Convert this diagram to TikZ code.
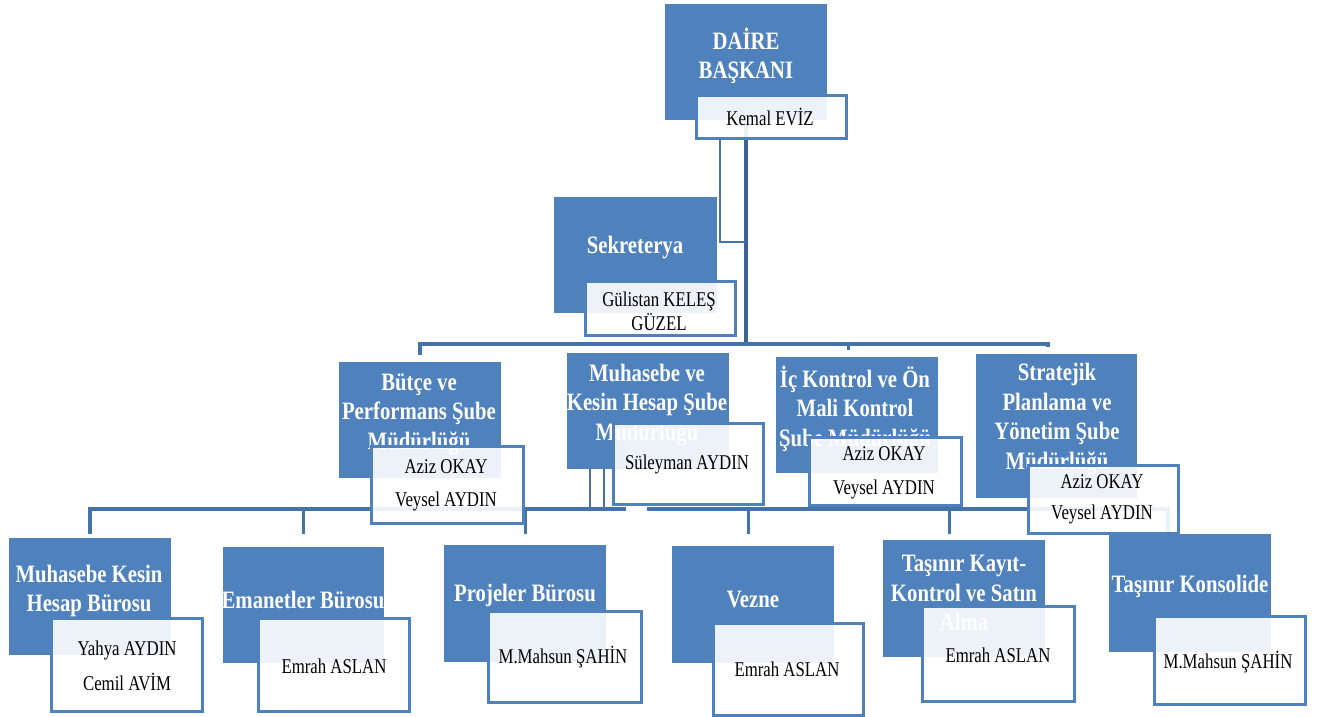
\documentclass[tikz,border=0pt]{standalone}
\usepackage{fontspec}
\setmainfont{Liberation Serif}
\newfontfamily\tfont[FakeStretch=0.83]{Liberation Serif}
\newfontfamily\nfont[FakeStretch=0.80]{Liberation Serif}
\definecolor{bxblue}{HTML}{4F81BD}
\definecolor{lnblue}{HTML}{4672AA}
\definecolor{lndark}{HTML}{3D6297}
\pgfdeclarelayer{bg}
\pgfsetlayers{bg,main}
\tikzset{
  bluebox/.style={fill=bxblue, draw=none, inner sep=0pt, outer sep=0pt},
  namebox/.style={draw=bxblue, line width=3pt, fill=white, fill opacity=0.9, inner sep=0pt, outer sep=0pt},
  ttl/.style={text=white, align=center, inner sep=0pt, font=\tfont\bfseries\fontsize{25}{29.5}\selectfont},
  nm/.style={text=black, align=center, inner sep=0pt, font=\nfont\fontsize{21}{#1}\selectfont},
  nm/.default=33,
  bus/.style={draw=lnblue, line width=4pt, line join=miter},
  drop/.style={draw=lnblue, line width=3pt},
}
\newcommand\bx[6]{\node[#6, minimum width={#4-#2}, minimum height={#5-#3}] (#1) at ({(#2+#4)/2},{(#3+#5)/2}) {};}
\begin{document}
\begin{tikzpicture}[x=1pt,y=-1pt]
\useasboundingbox (0,0) rectangle (1320,717);
\begin{pgfonlayer}{bg}
\fill[white] (0,0) rectangle (1320,717);
\end{pgfonlayer}

% ---------- top ----------
\bx{db}{665}{4}{827}{120}{bluebox}
\node[ttl] (dbt) at (746,56) {DAİRE\\BAŞKANI};
\bx{dbw}{696}{95}{846}{138}{namebox}
\node[nm] (dbn) at (770,117) {Kemal EVİZ};

\bx{sek}{554}{197}{717}{313}{bluebox}
\node[ttl] (sekt) at (635,248) {Sekreterya};
\bx{sekw}{585}{281}{735}{335}{namebox}
\node[nm=24] (sekn) at (659,311) {Gülistan KELEŞ\\GÜZEL};

% ---------- second level ----------
\bx{but}{339}{362}{501}{478}{bluebox}
\node[ttl] (butt) at (419,414) {Bütçe ve\\Performans Şube\\Müdürlüğü};
\bx{butw}{371}{446}{523}{523}{namebox}
\node[nm=33] (butn) at (446,485) {Aziz OKAY\\Veysel AYDIN};

\bx{muh}{567}{353}{729}{469}{bluebox}
\node[ttl] (muht) at (647,405) {Muhasebe ve\\Kesin Hesap Şube\\Müdürlüğü};
\bx{muhw}{613}{423}{763}{504}{namebox}
\node[nm] (muhn) at (687,464) {Süleyman AYDIN};

\bx{ick}{776}{357}{938}{473}{bluebox}
\node[ttl] (ickt) at (855,409) {İç Kontrol ve Ön\\Mali Kontrol\\Şube Müdürlüğü};
\bx{ickw}{809}{437}{961}{505}{namebox}
\node[nm=34] (ickn) at (884,473) {Aziz OKAY\\Veysel AYDIN};

\bx{str}{976}{354}{1137}{498}{bluebox}
\node[ttl] (strt) at (1057,419) {Stratejik\\Planlama ve\\Yönetim Şube\\Müdürlüğü};
\bx{strw}{1028}{465}{1178}{533}{namebox}
\node[nm=31] (strn) at (1102,499) {Aziz OKAY\\Veysel AYDIN};

% ---------- third level ----------
\bx{mkh}{9}{538}{171}{655}{bluebox}
\node[ttl] (mkht) at (89,591) {Muhasebe Kesin\\Hesap Bürosu};
\bx{mkhw}{51}{618}{202}{711}{namebox}
\node[nm=35] (mkhn) at (127,666) {Yahya AYDIN\\Cemil AVİM};

\bx{ema}{223}{547}{384}{663}{bluebox}
\node[ttl] (emat) at (303,600) {Emanetler Bürosu};
\bx{emaw}{258}{618}{409}{711}{namebox}
\node[nm] (eman) at (334,666) {Emrah ASLAN};

\bx{pro}{444}{545}{606}{662}{bluebox}
\node[ttl] (prot) at (525,595) {Projeler Bürosu};
\bx{prow}{488}{611}{641}{702}{namebox}
\node[nm] (pron) at (563,657) {M.Mahsun ŞAHİN};

\bx{vez}{672}{546}{834}{663}{bluebox}
\node[ttl] (vezt) at (753,599) {Vezne};
\bx{vezw}{713}{623}{863}{715}{namebox}
\node[nm] (vezn) at (787,669) {Emrah ASLAN};

\bx{tkk}{883}{540}{1045}{657}{bluebox}
\node[ttl] (tkkt) at (964,593) {Taşınır Kayıt-\\Kontrol ve Satın\\Alma};
\bx{tkkw}{922}{606}{1074}{701}{namebox}
\node[nm] (tkkn) at (998,655) {Emrah ASLAN};

\bx{tko}{1109}{534}{1271}{652}{bluebox}
\node[ttl] (tkot) at (1190,586) {Taşınır Konsolide};
\bx{tkow}{1154}{616}{1305}{704}{namebox}
\node[nm] (tkon) at (1228,662) {M.Mahsun ŞAHİN};

% ---------- connectors ----------
\coordinate (b1) at (0,344);
\coordinate (b2) at (0,509);
\coordinate (d2) at (0,534);
\coordinate (sj) at (720,242);
\coordinate (ickd) at ([xshift=-9pt]ick.north);
\coordinate (strd) at ([xshift=-9pt]str.north);
\coordinate (m1) at ([xshift=-58pt]muh.south);
\coordinate (m2) at ([xshift=-44pt]muh.south);
\coordinate (g1) at (626,509);
\coordinate (g2) at (647,509);
\coordinate (tkkd) at ([xshift=-15pt]tkk.north);
\coordinate (tkod) at ([xshift=-22pt]tko.north);

\begin{pgfonlayer}{bg}
\draw[bus, draw=lndark, line width=4.5pt] (db.south) -- (db.south |- b1);
\draw[drop, line width=2.5pt] (sj |- dbw.south) -- (sj) -- (sj -| db.south);
\draw[bus] ([yshift=7pt]but.north) -- (but.north |- b1) -- (strd |- b1) -- ([yshift=7pt]strd);
\draw[drop] (muh.north |- b1) -- ([yshift=7pt]muh.north);
\draw[drop] (ickd |- b1) -- ([yshift=7pt]ickd);

\draw[drop, line width=2.5pt] (m1) -- (m1 |- b2);
\draw[drop, line width=2.5pt] (m2) -- (m2 |- b2);
\draw[bus] (mkh.north |- d2) -- (mkh.north |- b2) -- (g1);
\draw[bus] (g2) -- (tkod |- b2) -- (tkod |- d2);
\draw[drop] (ema.north |- b2) -- (ema.north |- d2);
\draw[drop] (pro.north |- b2) -- (pro.north |- d2);
\draw[drop] ([xshift=-5pt]vez.north |- b2) -- ([xshift=-5pt]vez.north |- d2);
\draw[drop] (tkkd |- b2) -- (tkkd |- d2);
\end{pgfonlayer}
\end{tikzpicture}
\end{document}
